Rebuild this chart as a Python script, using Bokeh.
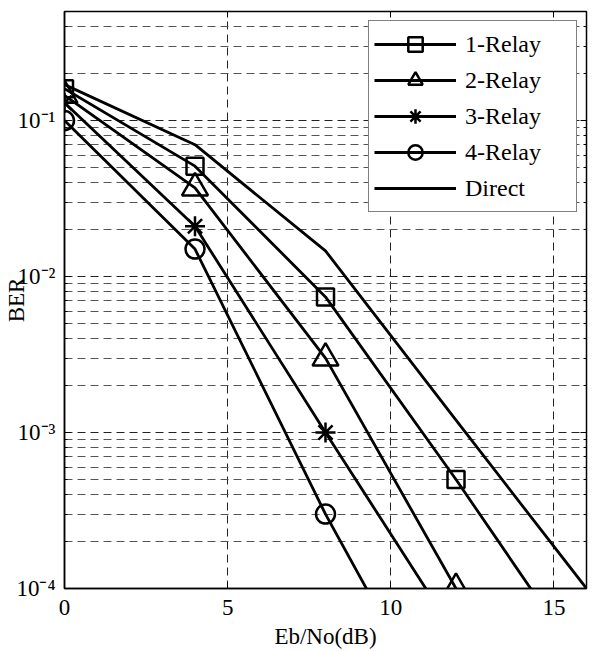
from bokeh.plotting import figure
from bokeh.models import (Range1d, FixedTicker, Legend, LegendItem,
                          LinearAxis, LogAxis, CustomJSTickFormatter)
from bokeh.embed import file_html
from bokeh.resources import INLINE

# ---------------- data ----------------
ebno_db = [0, 4, 8, 12, 16]
ber_1relay = [0.16, 0.051, 0.0074, 5.0e-4, 3.0e-5]
ber_2relay = [0.145, 0.037, 0.0030, 1.0e-4, 3.3e-6]
ber_3relay = [0.13, 0.021, 1.0e-3, 5.0e-5, 2.5e-6]
ber_4relay = [0.10, 0.015, 3.0e-4, 9.0e-6, 3.0e-7]
ber_direct = [0.17, 0.070, 0.0146, 1.2e-3, 1.0e-4]

x_ticks = [0, 5, 10, 15]
y_major = [1e-4, 1e-3, 1e-2, 1e-1]
y_tick_labels = ["10\u207b\u2074", "10\u207b\u00b3", "10\u207b\u00b2", "10\u207b\u00b9"]
y_minor = [m * 10.0 ** e for e in (-4, -3, -2, -1) for m in range(2, 10)
           if m * 10.0 ** e <= 0.5]

FONT = "Liberation Serif"

p = figure(width=593, height=651, y_axis_type="log",
           x_range=Range1d(0, 16), y_range=Range1d(1e-4, 0.5),
           output_backend="svg", toolbar_location=None,
           min_border_left=64, min_border_right=7,
           min_border_top=11, min_border_bottom=63)

p.outline_line_color = "black"
p.outline_line_width = 1.5
p.background_fill_color = "white"

# axes
p.xaxis.ticker = FixedTicker(ticks=x_ticks)
p.yaxis.ticker = FixedTicker(ticks=y_major, minor_ticks=y_minor)
for ax in (p.xaxis, p.yaxis):
    ax.axis_line_color = "black"
    ax.axis_line_width = 1.5
    ax.major_tick_line_color = "black"
    ax.major_tick_in = 6
    ax.major_tick_out = 0
    ax.minor_tick_in = 3
    ax.minor_tick_out = 0
    ax.major_label_text_font = FONT
    ax.major_label_text_color = "black"
    ax.major_label_text_font_size = "23px"
    ax.axis_label_text_font = FONT
    ax.axis_label_text_font_style = "normal"
    ax.axis_label_text_color = "black"
    ax.axis_label_text_font_size = "23px"
p.xaxis.minor_tick_line_color = None
p.xaxis.major_label_standoff = 11
p.xaxis.axis_label = "Eb/No(dB)"
p.xaxis.axis_label_standoff = 6

p.yaxis.formatter = CustomJSTickFormatter(
    args=dict(tvals=y_major, tlabels=y_tick_labels),
    code="""
let best = 0, bd = Infinity;
for (let i = 0; i < tvals.length; i++) {
  const d = Math.abs(Math.log10(tick) - Math.log10(tvals[i]));
  if (d < bd) { bd = d; best = i; }
}
return tlabels[best];
""")
p.yaxis.major_label_standoff = 9
p.yaxis.axis_label = "BER"
p.yaxis.axis_label_standoff = -16
p.yaxis.minor_tick_line_color = "black"

# box ticks on top and right
top_ax = LinearAxis(ticker=FixedTicker(ticks=x_ticks), major_label_text_font_size="1px",
                    major_label_text_alpha=0,
                    major_label_standoff=0, major_tick_in=6, major_tick_out=0,
                    minor_tick_line_color=None, axis_line_color="black",
                    major_tick_line_color="black")
right_ax = LogAxis(ticker=FixedTicker(ticks=y_major, minor_ticks=y_minor),
                   major_label_text_font_size="1px", major_label_text_alpha=0,
                   major_label_standoff=0,
                   major_tick_in=6, major_tick_out=0, minor_tick_in=3, minor_tick_out=0,
                   axis_line_color="black", major_tick_line_color="black",
                   minor_tick_line_color="black")
p.add_layout(top_ax, "above")
p.add_layout(right_ax, "right")

# grid
p.xgrid.grid_line_color = "#222222"
p.xgrid.grid_line_dash = "8 5"
p.xgrid.grid_line_width = 1
p.ygrid.grid_line_color = "#222222"
p.ygrid.grid_line_dash = "8 5"
p.ygrid.minor_grid_line_color = "#555555"
p.ygrid.minor_grid_line_dash = "8 5"
p.ygrid.grid_line_width = 1

LW = 2.8
series = [
    ("1-Relay", ber_1relay, "square", 17),
    ("2-Relay", ber_2relay, "triangle", 26),
    ("3-Relay", ber_3relay, "asterisk", 20),
    ("4-Relay", ber_4relay, "circle", 19),
]
items = []
for name, ys, marker, size in series:
    ln = p.line(ebno_db, ys, line_color="black", line_width=LW)
    sc = p.scatter(ebno_db, ys, marker=marker, size=size, line_color="black",
                   fill_color=None, line_width=2.5)
    items.append(LegendItem(label=name, renderers=[ln, sc]))
ld = p.line(ebno_db, ber_direct, line_color="black", line_width=LW)
items.append(LegendItem(label="Direct", renderers=[ld]))

legend = Legend(items=items, location="top_right", margin=9,
                border_line_color="black", border_line_width=1.2,
                background_fill_color="white", background_fill_alpha=1,
                label_text_font=FONT, label_text_font_size="24px",
                label_text_color="black", glyph_width=82, glyph_height=36,
                spacing=0, padding=5, label_standoff=9, label_width=106)
p.add_layout(legend)

open("out.html", "w").write(file_html(p, INLINE))
